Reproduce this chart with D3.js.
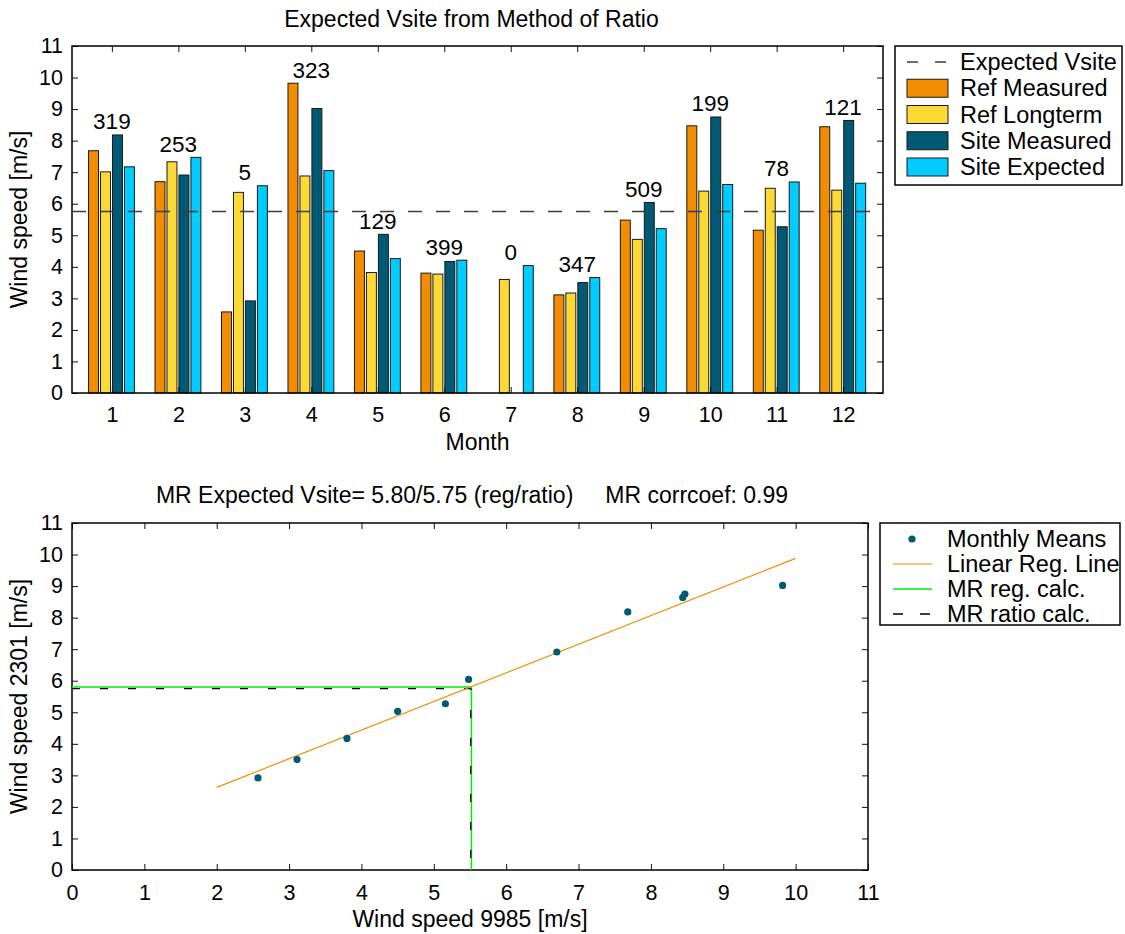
<!DOCTYPE html>
<html>
<head>
<meta charset="utf-8">
<title>Expected Vsite from Method of Ratio</title>
<script src="https://cdn.jsdelivr.net/npm/d3@7"></script>
<style>
    body { margin: 0; background: #fff; }
    svg text { font-family: "Liberation Sans", Arial, Helvetica, sans-serif; fill: #000; }
</style>
</head>
<body>
<div id="chart"></div>
<script>
// ---- data ----
const months = [1, 2, 3, 4, 5, 6, 7, 8, 9, 10, 11, 12];
const refMeasured  = [7.68, 6.70, 2.57, 9.82, 4.50, 3.80, null, 3.11, 5.48, 8.47, 5.16, 8.44];
const refLongterm  = [7.01, 7.33, 6.36, 6.88, 3.82, 3.77, 3.60, 3.17, 4.87, 6.40, 6.49, 6.43];
const siteMeasured = [8.18, 6.91, 2.92, 9.02, 5.03, 4.17, null, 3.50, 6.04, 8.75, 5.27, 8.64];
const siteExpected = [7.17, 7.47, 6.57, 7.05, 4.26, 4.21, 4.04, 3.66, 5.21, 6.61, 6.69, 6.65];
const sampleCounts = [319, 253, 5, 323, 129, 399, 0, 347, 509, 199, 78, 121];

const seriesNames = ["Ref Measured", "Ref Longterm", "Site Measured", "Site Expected"];
const seriesColors = ["#f28c00", "#fdd935", "#005a73", "#00ccff"];

const expectedVsite = 5.75;      // ratio method result
const expectedVsiteReg = 5.80;   // regression method result
const mrRegX = 5.52;             // x where the reg. line reaches 5.80
const mrRatioX = 5.51;
const corrCoef = 0.99;
const regLineX = [2, 10];
const regLineY = [2.62, 9.88];

const axisTicks = d3.range(0, 12);   // 0..11

const font = {tick: 21.5, label: 23, legend: 23.5, count: 22.5};

const svg = d3.select("#chart").append("svg")
    .attr("width", 1125)
    .attr("height", 934);

/**
 * Draws an inward-ticked box axis (all four sides) for a plot area.
 */
function drawFrame(g, x, y, xTicks, box) {
    const w = box.right - box.left, h = box.bottom - box.top;

    g.append("g").attr("transform", `translate(0,${h})`)
        .call(d3.axisBottom(x).tickValues(xTicks).tickSize(-6).tickPadding(box.xPad).tickFormat(d3.format("d")));
    g.append("g")
        .call(d3.axisTop(x).tickValues(xTicks).tickSize(-6).tickFormat(""));
    g.append("g")
        .call(d3.axisLeft(y).tickValues(axisTicks).tickSize(-6).tickPadding(9).tickFormat(d3.format("d")));
    g.append("g").attr("transform", `translate(${w},0)`)
        .call(d3.axisRight(y).tickValues(axisTicks).tickSize(-6).tickFormat(""));

    g.selectAll(".domain").remove();
    g.selectAll(".tick line").attr("stroke", "#111").attr("stroke-width", 1);
    g.selectAll(".tick text").style("font-size", font.tick + "px").attr("fill", "#000");

    g.append("rect")
        .attr("width", w).attr("height", h)
        .attr("fill", "none").attr("stroke", "#000").attr("stroke-width", 1.5);
}

// ================= top: grouped monthly bars =================
const topBox = {left: 72, right: 883, top: 46, bottom: 393, xPad: 13.5};
const gTop = svg.append("g").attr("transform", `translate(${topBox.left},${topBox.top})`);
const topW = topBox.right - topBox.left, topH = topBox.bottom - topBox.top;

const xMonth = d3.scaleLinear().domain([0.4, 12.6]).range([0, topW]);
const yTop = d3.scaleLinear().domain([0, 11]).range([topH, 0]);

const groupWidth = (xMonth(2) - xMonth(1)) * 0.72;
const xInner = d3.scaleBand().domain(seriesNames)
    .range([-groupWidth / 2, groupWidth / 2])
    .paddingInner(1 / 6).paddingOuter(1 / 12);

const seriesValues = [refMeasured, refLongterm, siteMeasured, siteExpected];
const barData = [];
months.forEach((m, i) => {
    seriesNames.forEach((s, k) => {
        const v = seriesValues[k][i];
        if (v !== null) barData.push({month: m, series: s, value: v, color: seriesColors[k]});
    });
});

gTop.selectAll(".bar")
    .data(barData)
    .enter().append("rect")
    .attr("class", "bar")
    .attr("x", d => xMonth(d.month) + xInner(d.series) - 0.4)
    .attr("y", d => yTop(d.value))
    .attr("width", xInner.bandwidth())
    .attr("height", d => topH - yTop(d.value))
    .attr("fill", d => d.color)
    .attr("stroke", "#1a1a1a")
    .attr("stroke-width", 1);

drawFrame(gTop, xMonth, yTop, months, topBox);

// expected Vsite line on top of the bars
gTop.append("line")
    .attr("x1", 0).attr("x2", topW)
    .attr("y1", yTop(expectedVsite)).attr("y2", yTop(expectedVsite))
    .attr("stroke", "#3c3c3c").attr("stroke-width", 1.5)
    .attr("stroke-dasharray", "14,14");

// sample counts above each month group
gTop.selectAll(".count-label")
    .data(months)
    .enter().append("text")
    .attr("class", "count-label")
    .attr("x", m => xMonth(m))
    .attr("y", (m, i) => yTop(d3.max(seriesValues, s => s[i])) - 5.5)
    .attr("text-anchor", "middle")
    .style("font-size", font.count + "px")
    .text((m, i) => sampleCounts[i]);

gTop.append("text")
    .attr("x", topW / 2 - 6).attr("y", 26.5 - topBox.top)
    .attr("text-anchor", "middle")
    .style("font-size", font.label + "px")
    .text("Expected Vsite from Method of Ratio");

gTop.append("text")
    .attr("x", topW / 2).attr("y", 450 - topBox.top)
    .attr("text-anchor", "middle")
    .style("font-size", font.label + "px")
    .text("Month");

gTop.append("text")
    .attr("transform", `translate(${27 - topBox.left},${topH / 2}) rotate(-90)`)
    .attr("text-anchor", "middle")
    .style("font-size", font.label + "px")
    .text("Wind speed [m/s]");

// top legend
const legTop = svg.append("g").attr("transform", "translate(895,46)");
legTop.append("rect")
    .attr("width", 227).attr("height", 139)
    .attr("fill", "#fff").attr("stroke", "#000").attr("stroke-width", 1.5);

const topRows = legTop.selectAll(".leg-row")
    .data(["Expected Vsite"].concat(seriesNames))
    .enter().append("g")
    .attr("class", "leg-row")
    .attr("transform", (d, i) => `translate(0,${16 + i * 26.25})`);

topRows.filter((d, i) => i === 0).append("line")
    .attr("x1", 12).attr("x2", 53)
    .attr("stroke", "#3c3c3c").attr("stroke-width", 1.5)
    .attr("stroke-dasharray", "11,17");

topRows.filter((d, i) => i > 0).append("rect")
    .attr("x", 12).attr("y", -9)
    .attr("width", 41).attr("height", 18)
    .attr("fill", d => seriesColors[seriesNames.indexOf(d)])
    .attr("stroke", "#1a1a1a").attr("stroke-width", 1);

topRows.append("text")
    .attr("x", 65).attr("y", 8)
    .style("font-size", font.legend + "px")
    .text(d => d);

// ================= bottom: scatter of monthly means =================
const botBox = {left: 72, right: 868, top: 523, bottom: 870, xPad: 14.5};
const gBot = svg.append("g").attr("transform", `translate(${botBox.left},${botBox.top})`);
const botW = botBox.right - botBox.left, botH = botBox.bottom - botBox.top;

const xRef = d3.scaleLinear().domain([0, 11]).range([0, botW]);
const yBot = d3.scaleLinear().domain([0, 11]).range([botH, 0]);

drawFrame(gBot, xRef, yBot, axisTicks, botBox);

// regression-method lines (green)
gBot.append("path")
    .attr("d", d3.line()([[xRef(0), yBot(expectedVsiteReg)], [xRef(mrRegX), yBot(expectedVsiteReg)], [xRef(mrRegX), yBot(0)]]))
    .attr("fill", "none").attr("stroke", "#00ee00").attr("stroke-width", 1.5);

// ratio-method lines (black dashed)
gBot.append("path")
    .attr("d", d3.line()([[xRef(0), yBot(expectedVsite)], [xRef(mrRatioX), yBot(expectedVsite)], [xRef(mrRatioX), yBot(0)]]))
    .attr("fill", "none").attr("stroke", "#000").attr("stroke-width", 1.3)
    .attr("stroke-dasharray", "8,20");

// linear regression line
gBot.append("line")
    .attr("x1", xRef(regLineX[0])).attr("y1", yBot(regLineY[0]))
    .attr("x2", xRef(regLineX[1])).attr("y2", yBot(regLineY[1]))
    .attr("stroke", "#f28c00").attr("stroke-width", 1.2);

const scatterData = months.map((m, i) => ({x: refMeasured[i], y: siteMeasured[i]}))
    .filter(d => d.x !== null && d.y !== null);

gBot.selectAll(".dot")
    .data(scatterData)
    .enter().append("circle")
    .attr("class", "dot")
    .attr("cx", d => xRef(d.x))
    .attr("cy", d => yBot(d.y))
    .attr("r", 3.6)
    .attr("fill", "#005a73");

gBot.append("text")
    .attr("x", botW / 2 + 2).attr("y", 503 - botBox.top)
    .attr("text-anchor", "middle")
    .style("font-size", font.label + "px")
    .style("white-space", "pre")
    .attr("xml:space", "preserve")
    .text(`MR Expected Vsite= ${expectedVsiteReg.toFixed(2)}/${expectedVsite.toFixed(2)} (reg/ratio)     MR corrcoef: ${corrCoef.toFixed(2)}`);

gBot.append("text")
    .attr("x", botW / 2).attr("y", 926.5 - botBox.top)
    .attr("text-anchor", "middle")
    .style("font-size", font.label + "px")
    .text("Wind speed 9985 [m/s]");

gBot.append("text")
    .attr("transform", `translate(${27 - botBox.left},${botH / 2}) rotate(-90)`)
    .attr("text-anchor", "middle")
    .style("font-size", font.label + "px")
    .text("Wind speed 2301 [m/s]");

// bottom legend
const legBot = svg.append("g").attr("transform", "translate(880,523)");
legBot.append("rect")
    .attr("width", 240).attr("height", 102)
    .attr("fill", "#fff").attr("stroke", "#000").attr("stroke-width", 1.5);

const botLegend = [
    {name: "Monthly Means", kind: "dot", color: "#005a73"},
    {name: "Linear Reg. Line", kind: "line", color: "#f28c00", width: 1.2},
    {name: "MR reg. calc.", kind: "line", color: "#00ee00", width: 1.5},
    {name: "MR ratio calc.", kind: "dash", color: "#000", width: 1.3}
];

const botRows = legBot.selectAll(".leg-row")
    .data(botLegend)
    .enter().append("g")
    .attr("class", "leg-row")
    .attr("transform", (d, i) => `translate(0,${16 + i * 25})`);

botRows.filter(d => d.kind === "dot").append("circle")
    .attr("cx", 32).attr("r", 3.6).attr("fill", d => d.color);

botRows.filter(d => d.kind !== "dot").append("line")
    .attr("x1", 13).attr("x2", 52)
    .attr("stroke", d => d.color)
    .attr("stroke-width", d => d.width)
    .attr("stroke-dasharray", d => d.kind === "dash" ? "10,17" : null);

botRows.append("text")
    .attr("x", 67).attr("y", 8)
    .style("font-size", font.legend + "px")
    .text(d => d.name);
</script>
</body>
</html>
